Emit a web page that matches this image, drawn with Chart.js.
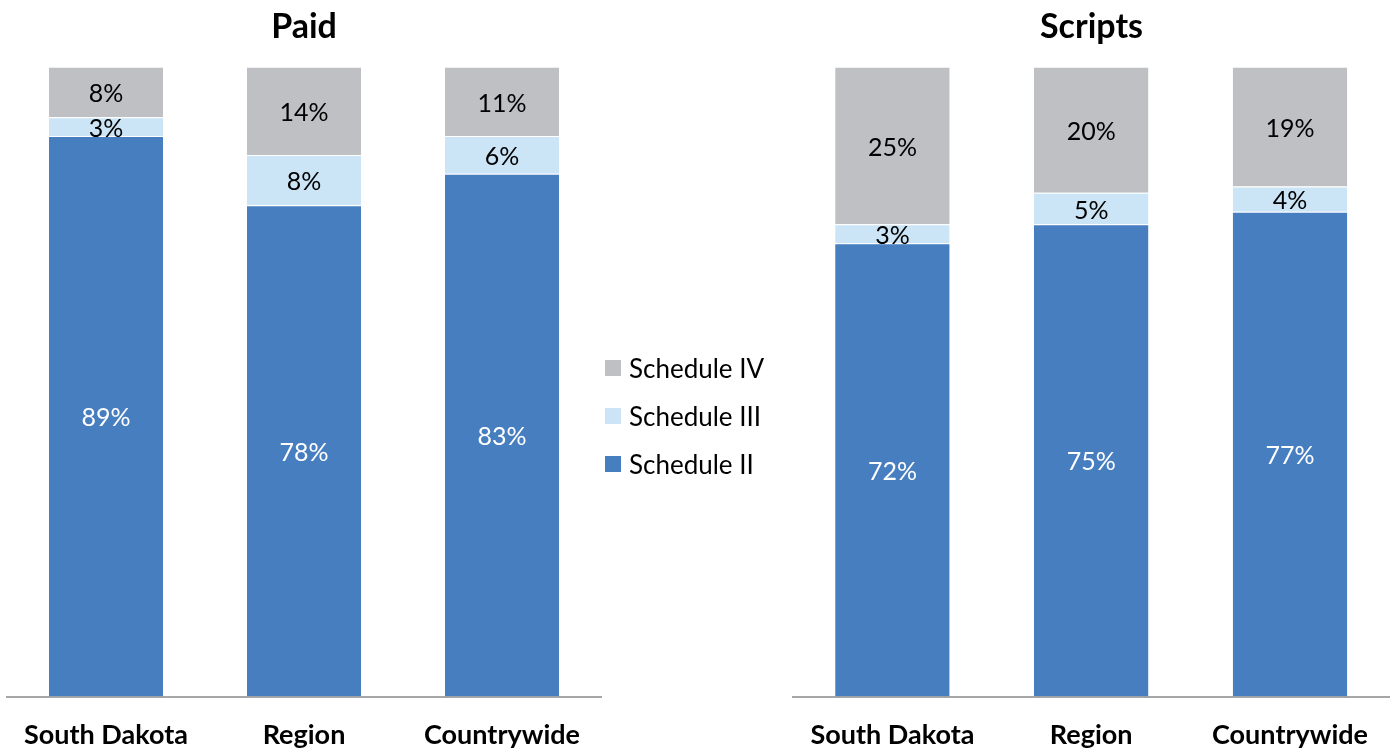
<!DOCTYPE html>
<html>
<head>
<meta charset="utf-8">
<script src="https://cdn.jsdelivr.net/npm/chart.js@4/dist/chart.umd.min.js"></script>
<style>
html,body{margin:0;padding:0;background:#fff;}
body{width:1390px;height:750px;position:relative;overflow:hidden;font-family:Lato,sans-serif;}
.box{position:absolute;top:0;height:773px;}
#legend{position:absolute;left:605px;top:344px;font-family:Lato,sans-serif;font-size:26px;color:#000;}
#legend .item{height:48px;display:flex;align-items:center;}
#legend .sw{width:16px;height:16px;margin-right:8px;}
</style>
</head>
<body>
<div class="box" style="left:0;width:610px;"><canvas id="paid"></canvas></div>
<div class="box" style="left:780px;width:610px;"><canvas id="scripts"></canvas></div>
<div id="legend"></div>
<script>
const categories = ["South Dakota", "Region", "Countrywide"];
const seriesNames = ["Schedule II", "Schedule III", "Schedule IV"];
const paidScheduleII = [89, 78, 83];
const paidScheduleIII = [3, 8, 6];
const paidScheduleIV = [8, 14, 11];
const scriptsScheduleII = [72, 75, 77];
const scriptsScheduleIII = [3, 5, 4];
const scriptsScheduleIV = [25, 20, 19];
const colors = ["#477EC0", "#CBE5F6", "#BFC0C4"];
const labelColors = ["#FFFFFF", "#000000", "#000000"];

const labelPlugin = {
  id: 'segLabels',
  afterDatasetsDraw(chart) {
    const ctx = chart.ctx;
    ctx.save();
    ctx.font = '25px Lato, sans-serif';
    ctx.textAlign = 'center';
    ctx.textBaseline = 'middle';
    chart.data.datasets.forEach((ds, di) => {
      const meta = chart.getDatasetMeta(di);
      meta.data.forEach((bar, i) => {
        const p = bar.getProps(['x', 'y', 'base'], true);
        ctx.fillStyle = labelColors[di];
        ctx.fillText(ds.data[i] + '%', p.x, (p.y + p.base) / 2 + 2);
      });
    });
    ctx.restore();
  }
};

function makeChart(id, title, s2, s3, s4, padL, padR) {
  const data = [s2, s3, s4];
  return new Chart(document.getElementById(id), {
    type: 'bar',
    data: {
      labels: categories,
      datasets: seriesNames.map((n, k) => ({
        label: n,
        data: data[k],
        backgroundColor: colors[k],
        borderColor: '#FFFFFF',
        borderWidth: {top: 1, left: 0, right: 0, bottom: 0},
        borderSkipped: 'start',
        barPercentage: 1,
        categoryPercentage: 0.576
      }))
    },
    options: {
      responsive: true,
      maintainAspectRatio: false,
      animation: false,
      layout: {padding: {left: padL, right: padR, top: 0, bottom: 0}},
      plugins: {
        legend: {display: false},
        tooltip: {enabled: false},
        title: {
          display: true,
          text: title,
          color: '#000',
          font: {family: 'Lato, sans-serif', size: 34, weight: 'bold', lineHeight: 1.2},
          padding: {top: 7, bottom: 19}
        }
      },
      scales: {
        x: {
          stacked: true,
          grid: {display: false, drawTicks: false},
          border: {display: true, color: '#A6A6A6', width: 2},
          ticks: {color: '#000', padding: 22, font: {family: 'Lato, sans-serif', size: 27, weight: 'bold', lineHeight: 1.2}}
        },
        y: {
          stacked: true,
          display: false,
          min: 0,
          max: 100
        }
      }
    },
    plugins: [labelPlugin]
  });
}

makeChart('paid', 'Paid', paidScheduleII, paidScheduleIII, paidScheduleIV, 7, 9);
makeChart('scripts', 'Scripts', scriptsScheduleII, scriptsScheduleIII, scriptsScheduleIV, 13, 0);

const legend = document.getElementById('legend');
for (let k = seriesNames.length - 1; k >= 0; k--) {
  const item = document.createElement('div');
  item.className = 'item';
  const sw = document.createElement('span');
  sw.className = 'sw';
  sw.style.background = colors[k];
  const t = document.createElement('span');
  t.textContent = seriesNames[k];
  item.appendChild(sw);
  item.appendChild(t);
  legend.appendChild(item);
}
</script>
</body>
</html>
